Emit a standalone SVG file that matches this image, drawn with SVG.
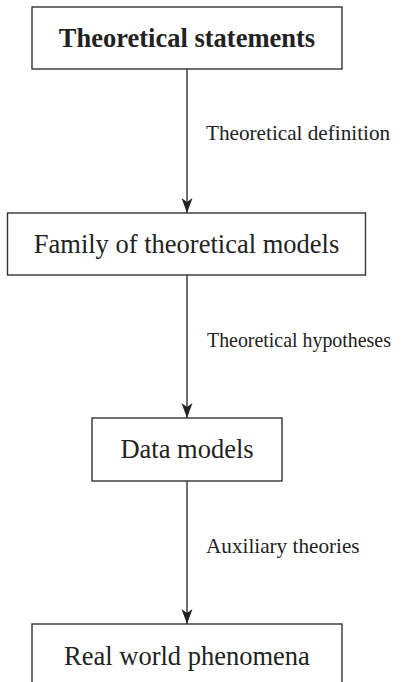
<svg xmlns="http://www.w3.org/2000/svg" width="404" height="682" viewBox="0 0 404 682">
<style>
.box{fill:#fff;stroke:#333;stroke-width:1.4}
.node{font-family:"Liberation Serif","Times New Roman",serif;font-size:26.5px;fill:#222;text-anchor:middle}
.lbl{font-family:"Liberation Serif","Times New Roman",serif;font-size:21px;fill:#222}
.edge{stroke:#333;stroke-width:1.4;fill:none}
.head{fill:#222}
</style>
<rect width="404" height="682" fill="#fff"/>
<g id="connectors">
<line class="edge" x1="187" y1="69" x2="187" y2="213"/>
<path class="head" d="M181.5,198 L187,213 L192.5,198 L187,202 Z"/>
<line class="edge" x1="187" y1="275" x2="187" y2="418"/>
<path class="head" d="M181.5,403 L187,418 L192.5,403 L187,407 Z"/>
<line class="edge" x1="187" y1="481" x2="187" y2="624"/>
<path class="head" d="M181.5,609 L187,624 L192.5,609 L187,613 Z"/>
<text class="lbl" x="206" y="140" style="font-size:21.2px">Theoretical definition</text>
<text class="lbl" x="207" y="347" style="font-size:19.9px">Theoretical hypotheses</text>
<text class="lbl" x="206" y="553" style="font-size:21.2px">Auxiliary theories</text>
</g>
<g id="node-statements">
<rect class="box" x="32" y="7" width="310" height="62"/>
<text class="node" x="187" y="47" font-weight="bold">Theoretical statements</text>
</g>
<g id="node-family">
<rect class="box" x="7.5" y="213" width="358" height="62"/>
<text class="node" x="186.5" y="253">Family of theoretical models</text>
</g>
<g id="node-data">
<rect class="box" x="92" y="418" width="190" height="63"/>
<text class="node" x="187" y="458">Data models</text>
</g>
<g id="node-real">
<rect class="box" x="32" y="624" width="310" height="70"/>
<text class="node" x="187" y="665">Real world phenomena</text>
</g>
</svg>
